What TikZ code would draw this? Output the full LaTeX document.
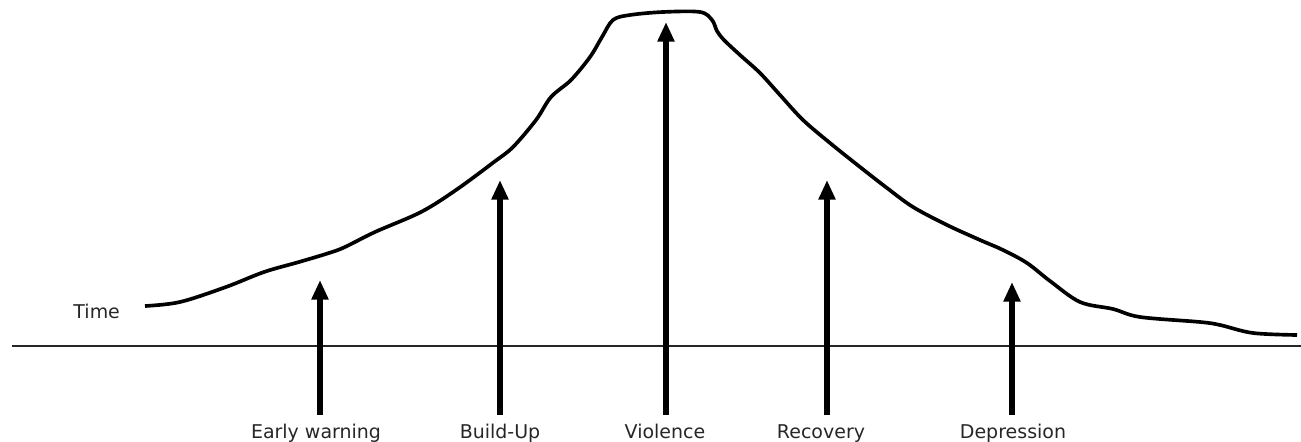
\documentclass[tikz,border=0pt]{standalone}
\usepackage{fontspec}
\setmainfont{DejaVu Sans}
\usetikzlibrary{arrows.meta}

\tikzset{
  phase/.style={anchor=base,inner sep=2pt,font=\fontsize{13.5}{16}\selectfont,text=black!85},
  rise/.style={line width=3.6pt,-{Triangle[length=14pt,width=11.5pt]},shorten <=4pt}
}

\begin{document}
\begin{tikzpicture}[x=0.025cm,y=-0.025cm]
\useasboundingbox (0,0) rectangle (1301,441);

% Time axis
\draw[line width=2pt,black!85] (12,346) -- (1301,346);
\node[phase,anchor=east] (time) at (123,311) {Time};

% Escalation curve
\draw[line width=2.6pt,line join=round] plot[smooth,tension=0.55] coordinates {
  (145,306) (180,302) (226,287) (264,272) (299,262) (329,253) (345,247)
  (375,232) (421,212) (456,190) (494,162) (513,147) (536,120) (551,97)
  (571,80) (590,57) (602,37) (613,20) (630,15) (663,12) (700,12) (712,20)
  (717,31) (724,40) (740,55) (760,73) (780,95) (803,120) (830,143)
  (860,167) (887,188) (913,207) (947,225) (980,240) (1003,250) (1027,263)
  (1050,281) (1080,302) (1113,309) (1140,317) (1200,322) (1220,325)
  (1253,333) (1297,335)};

% Phase labels
\node[phase] (warn) at (316,438) {Early warning};
\node[phase] (build) at (500,438) {Build-Up};
\node[phase] (viol) at (665,438) {Violence};
\node[phase] (recov) at (821,438) {Recovery};
\node[phase] (depr) at (1013,438) {Depression};

% Arrow tips
\coordinate (warntip) at (320,280);
\coordinate (buildtip) at (500,180);
\coordinate (violtip) at (666,22);
\coordinate (recovtip) at (827,180);
\coordinate (deprtip) at (1012,282);

% Phase arrows
\draw[rise] (warn.north -| warntip) -- (warntip);
\draw[rise] (build.north -| buildtip) -- (buildtip);
\draw[rise] (viol.north -| violtip) -- (violtip);
\draw[rise] (recov.north -| recovtip) -- (recovtip);
\draw[rise] (depr.north -| deprtip) -- (deprtip);
\end{tikzpicture}
\end{document}
